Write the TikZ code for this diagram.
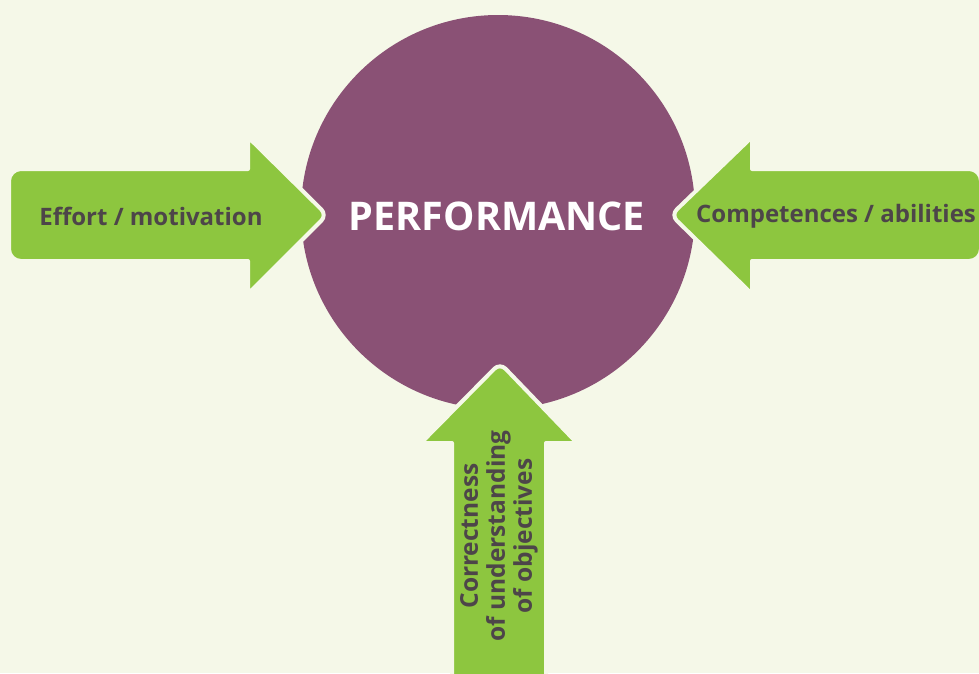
\documentclass[tikz,border=0pt]{standalone}
\usepackage{fontspec}
\setmainfont{Open Sans}
\definecolor{bgc}{HTML}{F5F8E8}
\definecolor{perf}{HTML}{8A5175}
\definecolor{grn}{HTML}{8DC63F}
\definecolor{txt}{HTML}{4D4549}
\begin{document}
\begin{tikzpicture}[x=1pt,y=-1pt,
  arr/.style={fill=grn,draw=bgc,line width=4pt,line join=round},
  lbl/.style={text=txt,font=\bfseries\fontsize{24}{28}\selectfont,inner sep=0pt},
  big/.style={text=white,font=\bfseries\fontsize{39.5}{44}\selectfont,inner sep=0pt}]
\useasboundingbox (0,0) rectangle (979,673);
\clip (0,0) rectangle (979,673);
\fill[bgc] (0,0) rectangle (979,673);
\fill[perf] (498,212) circle (197);
% left arrow
\filldraw[arr] (248,169) [rounded corners=12pt] -- (9,169) -- (9,261) [sharp corners] -- (248,261) [rounded corners=3pt] -- (248,294) [rounded corners=8pt] -- (327,215) [rounded corners=3pt] -- (248,137) [sharp corners] -- cycle;
% right arrow
\filldraw[arr] (752,169) [rounded corners=12pt] -- (981,169) -- (981,261) [sharp corners] -- (752,261) [rounded corners=3pt] -- (752,294) [rounded corners=8pt] -- (671,215) [rounded corners=3pt] -- (752,137) [sharp corners] -- cycle;
% bottom arrow
\filldraw[arr] (452,443) -- (452,700) -- (546,700) -- (546,443) [rounded corners=3pt] -- (577,443) [rounded corners=8pt] -- (500,363) [rounded corners=3pt] -- (421,443) [sharp corners] -- cycle;
\node[big] (perfT) at (497,216) {PERFORMANCE};
\node[lbl] (effort) at (151,216) {Effort / motivation};
\node[lbl] (comp) at (836,216) {Competences / abilities};
\node[lbl,rotate=90,align=center,font=\bfseries\fontsize{24.5}{27}\selectfont] (corr) at (499,536) {Correctness\\of understanding\\of objectives};
\end{tikzpicture}
\end{document}
